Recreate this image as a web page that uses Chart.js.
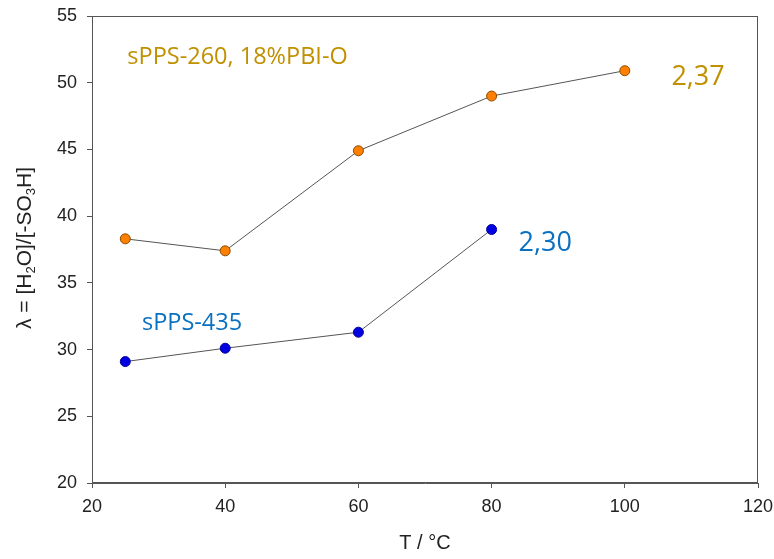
<!DOCTYPE html>
<html>
<head>
    <title>Lambda vs T</title>
    <script src="https://cdn.jsdelivr.net/npm/chart.js"></script>
    <style>
        body { margin: 0; background: #fff; }
        #wrap { width: 774px; height: 559px; }
    </style>
</head>
<body>
    <div id="wrap"><canvas id="chart"></canvas></div>
    <script>
        // data
        var tempsA = [25, 40, 60, 80, 100];
        var lambdaA = [38.3, 37.4, 44.9, 49.0, 50.9];
        var tempsB = [25, 40, 60, 80];
        var lambdaB = [29.1, 30.1, 31.3, 39.0];
        var xTicks = [20, 40, 60, 80, 100, 120];
        var yTicks = [20, 25, 30, 35, 40, 45, 50, 55];

        var gold = '#C09000';
        var blue = '#0A70C0';
        var arial = '"Liberation Sans", Arial, sans-serif';

        function toPoints(xs, ys) {
            return xs.map(function (x, i) { return { x: x, y: ys[i] }; });
        }

        // text labels + y title with subscripts
        var notes = {
            id: 'notes',
            afterDraw: function (chart) {
                var ctx = chart.ctx;
                var xs = chart.scales.x, ys = chart.scales.y;
                ctx.save();
                ctx.textBaseline = 'middle';
                ctx.textAlign = 'left';
                ctx.fillStyle = gold;
                ctx.font = '23.5px "Open Sans", "Noto Sans", sans-serif';
                ctx.fillText('sPPS-260, 18%PBI-O', xs.getPixelForValue(25.3), ys.getPixelForValue(51.9));
                ctx.font = '27px "Open Sans", "Noto Sans", sans-serif';
                ctx.fillText('2,37', xs.getPixelForValue(107), ys.getPixelForValue(50.4));
                ctx.fillStyle = blue;
                ctx.fillText('2,30', xs.getPixelForValue(84.05), ys.getPixelForValue(38.0));
                ctx.font = '23.5px "Open Sans", "Noto Sans", sans-serif';
                ctx.fillText('sPPS-435', xs.getPixelForValue(27.5), ys.getPixelForValue(32.0));

                // y axis title, rotated
                ctx.translate(25, 248);
                ctx.rotate(-Math.PI / 2);
                ctx.fillStyle = '#222';
                var parts = [['\u03bb = [H', 0], ['2', 1], ['O]/[-SO', 0], ['3', 1], ['H]', 0]];
                var big = '21px ' + arial;
                var small = '13px ' + arial;
                var w = 0;
                parts.forEach(function (p) { ctx.font = p[1] ? small : big; w += ctx.measureText(p[0]).width; });
                var cx = -w / 2;
                parts.forEach(function (p) {
                    ctx.font = p[1] ? small : big;
                    ctx.fillText(p[0], cx, p[1] ? 6 : 0);
                    cx += ctx.measureText(p[0]).width;
                });
                ctx.restore();

                // frame
                var a = chart.chartArea;
                ctx.save();
                ctx.strokeStyle = '#555';
                ctx.lineWidth = 1;
                ctx.strokeRect(a.left + 0.5, a.top + 0.5, a.right - a.left - 1, a.bottom - a.top - 1);
                ctx.restore();
            }
        };

        new Chart(document.getElementById('chart'), {
            type: 'scatter',
            data: {
                datasets: [{
                    label: 'sPPS-260, 18%PBI-O',
                    data: toPoints(tempsA, lambdaA),
                    showLine: true,
                    borderColor: '#555',
                    borderWidth: 1,
                    pointBackgroundColor: '#FF8000',
                    pointBorderColor: '#8A4A00',
                    pointBorderWidth: 1,
                    pointRadius: 5
                }, {
                    label: 'sPPS-435',
                    data: toPoints(tempsB, lambdaB),
                    showLine: true,
                    borderColor: '#555',
                    borderWidth: 1,
                    pointBackgroundColor: '#0000E0',
                    pointBorderColor: '#00009A',
                    pointBorderWidth: 1,
                    pointRadius: 5
                }]
            },
            options: {
                responsive: true,
                maintainAspectRatio: false,
                animation: false,
                layout: { padding: { top: 16, right: 16, left: 0, bottom: 0 } },
                plugins: { legend: { display: false }, tooltip: { enabled: false } },
                scales: {
                    x: {
                        type: 'linear',
                        min: 20, max: 120,
                        afterBuildTicks: function (s) { s.ticks = xTicks.map(function (v) { return { value: v }; }); },
                        afterFit: function (s) { s.height = 76; s.paddingLeft = 0; s.paddingRight = 0; },
                        grid: { drawOnChartArea: false, tickLength: 5, color: '#555' },
                        border: { color: '#555' },
                        ticks: { color: '#222', font: { family: arial, size: 18 }, padding: 8 },
                        title: { display: true, text: 'T / \u00b0C', color: '#222', font: { family: arial, size: 20 }, padding: { top: 13 } }
                    },
                    y: {
                        min: 20, max: 55,
                        afterBuildTicks: function (s) { s.ticks = yTicks.map(function (v) { return { value: v }; }); },
                        afterFit: function (s) { s.width = 92; s.paddingTop = 0; s.paddingBottom = 0; },
                        grid: { drawOnChartArea: false, tickLength: 5, color: '#555' },
                        border: { color: '#555' },
                        ticks: { color: '#222', font: { family: arial, size: 18 }, padding: 10 }
                    }
                }
            },
            plugins: [notes]
        });
    </script>
</body>
</html>
